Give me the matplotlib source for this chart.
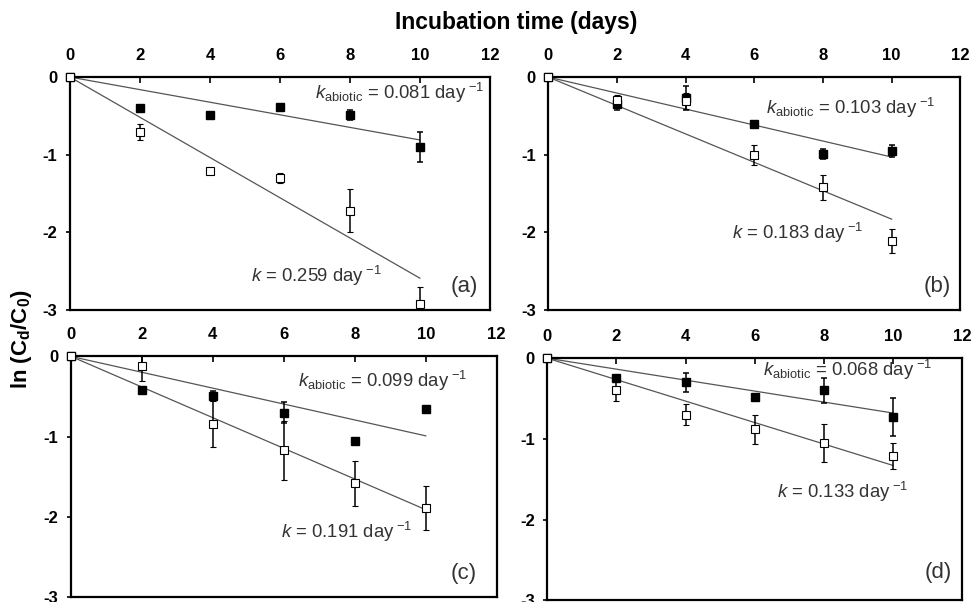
import matplotlib

matplotlib.use("Agg")
import matplotlib.pyplot as plt
import numpy as np

plt.rcParams["font.family"] = ["Liberation Sans", "DejaVu Sans"]
plt.rcParams["mathtext.fontset"] = "custom"
plt.rcParams["mathtext.rm"] = "Liberation Sans"
plt.rcParams["mathtext.it"] = "Liberation Sans:italic"
plt.rcParams["mathtext.bf"] = "Liberation Sans:bold"
plt.rcParams["axes.unicode_minus"] = False

# Sampling days (same for all panels)
days = [0, 2, 4, 6, 8, 10]

# ln(Cd/C0) readings, abiotic (filled) and biotic (open) with error bars
a_abiotic = [0, -0.40, -0.49, -0.39, -0.49, -0.90]
a_abiotic_err = [0, 0.04, 0.03, 0.02, 0.06, 0.19]
a_bio = [0, -0.71, -1.21, -1.30, -1.72, -2.92]
a_bio_err = [0, 0.10, 0.02, 0.07, 0.28, 0.22]

b_abiotic = [0, -0.35, -0.27, -0.60, -0.99, -0.95]
b_abiotic_err = [0.05, 0.08, 0.15, 0.02, 0.06, 0.08]
b_bio = [0, -0.29, -0.31, -1.00, -1.42, -2.11]
b_bio_err = [0.03, 0.06, 0.10, 0.13, 0.16, 0.15]

c_abiotic = [0, -0.42, -0.49, -0.70, -1.05, -0.66]
c_abiotic_err = [0.02, 0.02, 0.06, 0.13, 0.02, 0.04]
c_bio = [0, -0.12, -0.84, -1.17, -1.58, -1.89]
c_bio_err = [0.03, 0.19, 0.29, 0.37, 0.28, 0.27]

d_abiotic = [0, -0.24, -0.30, -0.48, -0.40, -0.73]
d_abiotic_err = [0, 0.03, 0.12, 0.04, 0.15, 0.24]
d_bio = [0, -0.39, -0.70, -0.88, -1.05, -1.21]
d_bio_err = [0, 0.14, 0.13, 0.18, 0.24, 0.16]

# First-order rate constants (day^-1) for the fitted lines
k_abiotic = [0.081, 0.103, 0.099, 0.068]
k_bio = [0.259, 0.183, 0.191, 0.133]
panel_tags = ["(a)", "(b)", "(c)", "(d)"]
x_ticks = [0, 2, 4, 6, 8, 10, 12]
y_ticks = [0, -1, -2, -3]

PANELS = [
    (a_abiotic, a_abiotic_err, a_bio, a_bio_err),
    (b_abiotic, b_abiotic_err, b_bio, b_bio_err),
    (c_abiotic, c_abiotic_err, c_bio, c_bio_err),
    (d_abiotic, d_abiotic_err, d_bio, d_bio_err),
]

# axes rectangles in figure fractions (left, bottom, width, height)
RECTS = [
    (0.072, 0.485, 0.432, 0.387),
    (0.564, 0.485, 0.424, 0.387),
    (0.073, 0.008, 0.438, 0.400),
    (0.563, 0.003, 0.427, 0.402),
]

# label anchors (data coords): abiotic text, biotic text, panel tag
LABEL_POS = [
    ((7.0, -0.21), (5.17, -2.56), (11.26, -2.70)),
    ((6.35, -0.40), (5.36, -2.01), (11.33, -2.70)),
    ((6.39, -0.31), (5.92, -2.19), (11.07, -2.70)),
    ((6.24, -0.15), (6.65, -1.66), (11.30, -2.66)),
]

TEXT_COLOR = "#333333"
LINE_COLOR = "#555555"

fig = plt.figure(figsize=(9.72, 6.02), dpi=100)

for i, (abio, abio_err, bio, bio_err) in enumerate(PANELS):
    ax = fig.add_axes(RECTS[i])
    t = np.array([0, 10])
    ax.plot(t, -k_abiotic[i] * t, color=LINE_COLOR, lw=0.9, zorder=2)
    ax.plot(t, -k_bio[i] * t, color=LINE_COLOR, lw=0.9, zorder=2)

    eb = ax.errorbar(days, abio, yerr=abio_err, fmt="s", ms=5.5, mfc="black", mec="black",
                     ecolor="black", elinewidth=1.1, capsize=2.2, capthick=1.1, zorder=3)
    eb[0].set_clip_on(False)
    eb = ax.errorbar(days, bio, yerr=bio_err, fmt="s", ms=5.5, mfc="white", mec="black", mew=0.8,
                     ecolor="black", elinewidth=1.1, capsize=2.2, capthick=1.1, zorder=4)
    eb[0].set_clip_on(False)

    ax.set_xlim(0, 12)
    ax.set_ylim(-3, 0)
    ax.set_xticks(x_ticks)
    ax.set_yticks(y_ticks)
    ax.xaxis.tick_top()
    ax.tick_params(axis="x", direction="in", length=4, width=1.2, pad=10, labelsize=12)
    ax.tick_params(axis="y", direction="out", length=3, width=1.2, pad=6, labelsize=12)
    for lab in ax.get_xticklabels() + ax.get_yticklabels():
        lab.set_fontweight("bold")
    for sp in ax.spines.values():
        sp.set_linewidth(1.6)

    (ax_x, ax_y), (bx, by), (tx, ty) = LABEL_POS[i]
    ax.text(ax_x, ax_y, r"$k_{\mathrm{abiotic}}$ = %.3f day$^{\ \mathrm{-1}}$" % k_abiotic[i],
            fontsize=13.3, color=TEXT_COLOR, va="center", ha="left")
    ax.text(bx, by, r"$k$ = %.3f day$^{\ \mathrm{-1}}$" % k_bio[i],
            fontsize=13.3, color=TEXT_COLOR, va="center", ha="left")
    ax.text(tx, ty, panel_tags[i], fontsize=16, color=TEXT_COLOR, va="center", ha="center")

fig.text(0.531, 1 - 23 / 602, "Incubation time (days)", fontsize=16.5, fontweight="bold",
         ha="center", va="center")
fig.text(22 / 972, 1 - 339 / 602, r"ln (C$_\mathbf{d}$/C$_\mathbf{0}$)", fontsize=16,
         fontweight="bold", rotation=90, ha="center", va="center")

fig.savefig("out.png", dpi=100)
